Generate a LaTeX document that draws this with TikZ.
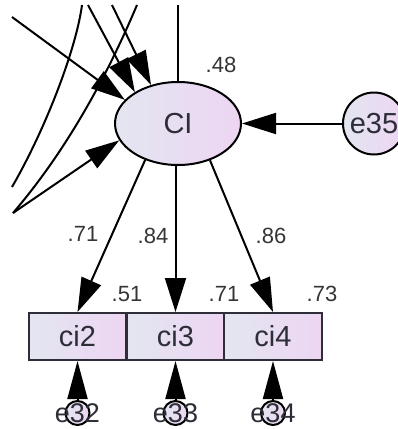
\documentclass[tikz,border=0pt]{standalone}
\usepackage{fontspec}
\setmainfont{Liberation Sans}
\usetikzlibrary{arrows.meta,shapes.geometric}
\definecolor{shadeL}{HTML}{E3E6F1}
\definecolor{shadeR}{HTML}{EDD5F2}
\definecolor{ink}{HTML}{2E2E38}
\definecolor{labelgray}{HTML}{353535}
\begin{document}
\begin{tikzpicture}[x=1pt,y=-1pt,
  latent/.style={ellipse,draw=black,line width=2pt,left color=shadeL,right color=shadeR,
    minimum width=126pt,minimum height=83pt,inner sep=0pt,text=ink,font=\fontsize{29}{29}\selectfont},
  errc/.style={circle,draw=black,line width=2pt,left color=shadeL,right color=shadeR,
    inner sep=0pt,text=ink,font=\fontsize{29}{29}\selectfont},
  obs/.style={rectangle,draw=ink,line width=2pt,left color=shadeL,right color=shadeR,
    minimum width=97.5pt,minimum height=47pt,inner sep=0pt,text=ink,font=\fontsize{29}{29}\selectfont},
  errtext/.style={font=\fontsize{27}{27}\selectfont,text=ink},
  wt/.style={font=\fontsize{22}{22}\selectfont,text=labelgray,inner sep=0pt},
  regpath/.style={line width=2pt,-{Triangle[length=34pt,width=21pt]}},
  errpath/.style={line width=2pt,-{Triangle[length=38pt,width=20pt]}},
  cov/.style={line width=2pt},
]
\useasboundingbox (0,0) rectangle (398,429);

% latent factor and its disturbance
\node[latent] (ci) at (178,123.5) {CI};
\node[errc,minimum size=62pt] (e35) at (374,123.5) {e35};

% indicators
\node[obs] (b2) at (77.5,336.5) {ci2};
\node[obs] (b3) at (175.5,336.5) {ci3};
\node[obs] (b4) at (273,336.5) {ci4};

% measurement errors
\node[errc,minimum size=24pt,label={[errtext]center:e32}] (e32) at (77.5,413) {};
\node[errc,minimum size=24pt,label={[errtext]center:e33}] (e33) at (175.5,413) {};
\node[errc,minimum size=24pt,label={[errtext]center:e34}] (e34) at (273,413) {};

% incoming paths from predictors outside the view
\coordinate (pE) at (12,17);
\coordinate (pC) at (88,5);
\coordinate (pD) at (112,5);
\coordinate (a0) at (82,5);
\coordinate (a1) at (12,187);
\coordinate (b0) at (137,5);
\coordinate (b1) at (13,213);
\coordinate (topend) at (178,5);

\draw[cov] (a0) .. controls (76,50) and (45,130) .. (a1);
\draw[cov] (b0) .. controls (120,45) and (80,135) .. (b1);
\draw[cov] (ci.north) -- (topend);

\draw[regpath] (pE) -- (ci.156);
\draw[regpath] (pC) -- (ci.144);
\draw[regpath] (pD) -- (ci.125);
\draw[regpath] (b1) -- (ci.196);
\draw[regpath] (e35) -- (ci);

% loadings
\draw[regpath] (ci.228) -- (b2.north);
\draw[regpath] (b3.north |- ci.south) -- (b3.north);
\draw[regpath] (ci.311) -- (b4.north);

\draw[errpath] (e32) -- (b2.south);
\draw[errpath] (e33) -- (b3.south);
\draw[errpath] (e34) -- (b4.south);

% estimates
\node[wt] (l48) at (221,65) {.48};
\node[wt] (l71a) at (83,234) {.71};
\node[wt] (l84) at (153,236) {.84};
\node[wt] (l86) at (271,236) {.86};
\node[wt] (l51) at (127,294) {.51};
\node[wt] (l71b) at (224,294) {.71};
\node[wt] (l73) at (322,294) {.73};
\end{tikzpicture}
\end{document}
